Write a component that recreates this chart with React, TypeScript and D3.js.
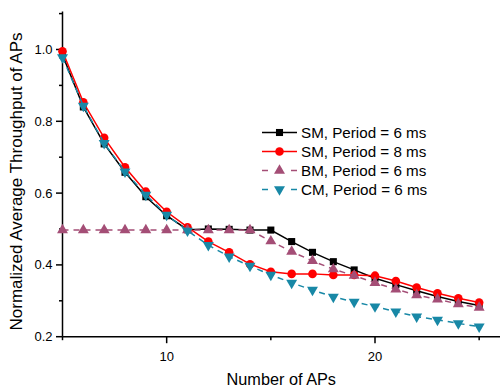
import React from "react";
import * as d3 from "d3";

const apCounts = [5, 6, 7, 8, 9, 10, 11, 12, 13, 14, 15, 16, 17, 18, 19, 20, 21, 22, 23, 24, 25];
const sm6 = [0.985, 0.84, 0.737, 0.658, 0.59, 0.537, 0.498, 0.5, 0.499, 0.497, 0.497, 0.465, 0.435, 0.409, 0.386, 0.363, 0.345, 0.328, 0.312, 0.298, 0.287];
const sm8 = [0.995, 0.853, 0.754, 0.672, 0.604, 0.548, 0.505, 0.465, 0.435, 0.402, 0.381, 0.375, 0.375, 0.372, 0.372, 0.37, 0.355, 0.337, 0.321, 0.307, 0.295];
const bm = [0.497, 0.497, 0.497, 0.497, 0.497, 0.497, 0.497, 0.497, 0.497, 0.497, 0.466, 0.437, 0.411, 0.388, 0.37, 0.35, 0.332, 0.316, 0.304, 0.291, 0.281];
const cm = [0.978, 0.843, 0.739, 0.66, 0.595, 0.539, 0.495, 0.455, 0.423, 0.397, 0.372, 0.35, 0.33, 0.311, 0.297, 0.284, 0.27, 0.256, 0.247, 0.237, 0.228];

const seriesNames = ["SM, Period = 6 ms", "SM, Period = 8 ms", "BM, Period = 6 ms", "CM, Period = 6 ms"];
const xMajorTicks = [10, 20];
const xMinorTicks = [5, 15, 25];
const yMajorTicks = [0.2, 0.4, 0.6, 0.8, 1.0];
const yMinorTicks = [0.3, 0.5, 0.7, 0.9, 1.1];

const W = 503;
const H = 389;
const left = 62.5;
const right = 500;
const top = 13.6;
const bottom = 336.7;

const FONT = "'Liberation Sans', Arial, sans-serif";

type Series = {
  name: string;
  values: number[];
  color: string;
  dash?: string;
  marker: "square" | "circle" | "up" | "down";
};

const series: Series[] = [
  { name: seriesNames[0], values: sm6, color: "#000000", marker: "square" },
  { name: seriesNames[1], values: sm8, color: "#FF0000", marker: "circle" },
  { name: seriesNames[2], values: bm, color: "#A44E76", dash: "6,5", marker: "up" },
  { name: seriesNames[3], values: cm, color: "#1888A6", dash: "6,5", marker: "down" },
];

function markerPath(m: Series["marker"]): string {
  if (m === "square") return d3.symbol(d3.symbolSquare, 50)() || "";
  if (m === "circle") return d3.symbol(d3.symbolCircle, 58)() || "";
  return d3.symbol(d3.symbolTriangle, 52)() || "";
}

export default function App() {
  const x = d3.scaleLinear().domain([5, 26]).range([left, right]);
  const y = d3.scaleLinear().domain([0.2, 1.1]).range([bottom, top]);
  const line = d3
    .line<number>()
    .x((_, i) => x(apCounts[i]))
    .y((d) => y(d));

  const legendX0 = 262;
  const legendX1 = 297;
  const legendY0 = 132.5;
  const legendDy = 19;

  return (
    <svg
      width={W}
      height={H}
      style={{ position: "absolute", left: 0, top: 0, display: "block", background: "#fff" }}
      fontFamily={FONT}
    >
      {/* axes */}
      <line x1={left} x2={left} y1={11.5} y2={bottom} stroke="#000" strokeWidth={1.5} />
      <line x1={left} x2={right} y1={bottom} y2={bottom} stroke="#000" strokeWidth={1.5} />
      {yMajorTicks.map((t) => (
        <g key={"ym" + t}>
          <line x1={left - 6.5} x2={left} y1={y(t)} y2={y(t)} stroke="#000" strokeWidth={1.5} />
          <text x={left - 10} y={y(t)} dy="0.35em" textAnchor="end" fontSize={13} fill="#000">
            {t.toFixed(1)}
          </text>
        </g>
      ))}
      {yMinorTicks.map((t) => (
        <line key={"yn" + t} x1={left - 3.5} x2={left} y1={y(t)} y2={y(t)} stroke="#000" strokeWidth={1.5} />
      ))}
      {xMajorTicks.map((t) => (
        <g key={"xm" + t}>
          <line x1={x(t)} x2={x(t)} y1={bottom} y2={bottom + 6.5} stroke="#000" strokeWidth={1.5} />
          <text x={x(t)} y={361} textAnchor="middle" fontSize={13} fill="#000">
            {t}
          </text>
        </g>
      ))}
      {xMinorTicks.map((t) => (
        <line key={"xn" + t} x1={x(t)} x2={x(t)} y1={bottom} y2={bottom + 3.5} stroke="#000" strokeWidth={1.5} />
      ))}

      <text x={(left + right) / 2} y={385} textAnchor="middle" fontSize={16.3} fill="#000">
        Number of APs
      </text>
      <text
        transform={`translate(22,181.5) rotate(-90)`}
        textAnchor="middle"
        fontSize={17}
        fill="#000"
      >
        Normalized Average Throughput of APs
      </text>

      {/* series */}
      {series.map((s) => (
        <g key={s.name}>
          <path
            d={line(s.values) || ""}
            fill="none"
            stroke={s.color}
            strokeWidth={1.5}
            strokeDasharray={s.dash}
          />
          {s.values.map((v, i) => (
            <path
              key={i}
              d={markerPath(s.marker)}
              transform={`translate(${x(apCounts[i])},${y(v)})${s.marker === "down" ? " rotate(180)" : ""}`}
              fill={s.color}
            />
          ))}
        </g>
      ))}

      {/* legend */}
      {series.map((s, i) => {
        const ly = legendY0 + i * legendDy;
        const mx = (legendX0 + legendX1) / 2;
        return (
          <g key={"lg" + s.name}>
            {s.dash ? (
              <>
                <line x1={legendX0} x2={legendX0 + 6} y1={ly} y2={ly} stroke={s.color} strokeWidth={1.5} />
                <line x1={legendX1 - 6} x2={legendX1} y1={ly} y2={ly} stroke={s.color} strokeWidth={1.5} />
              </>
            ) : (
              <line x1={legendX0} x2={legendX1} y1={ly} y2={ly} stroke={s.color} strokeWidth={1.5} />
            )}
            <path
              d={markerPath(s.marker)}
              transform={`translate(${mx},${ly})${s.marker === "down" ? " rotate(180)" : ""}`}
              fill={s.color}
            />
            <text x={301} y={ly} dy="0.35em" fontSize={15.2} fill="#000">
              {s.name}
            </text>
          </g>
        );
      })}
    </svg>
  );
}
